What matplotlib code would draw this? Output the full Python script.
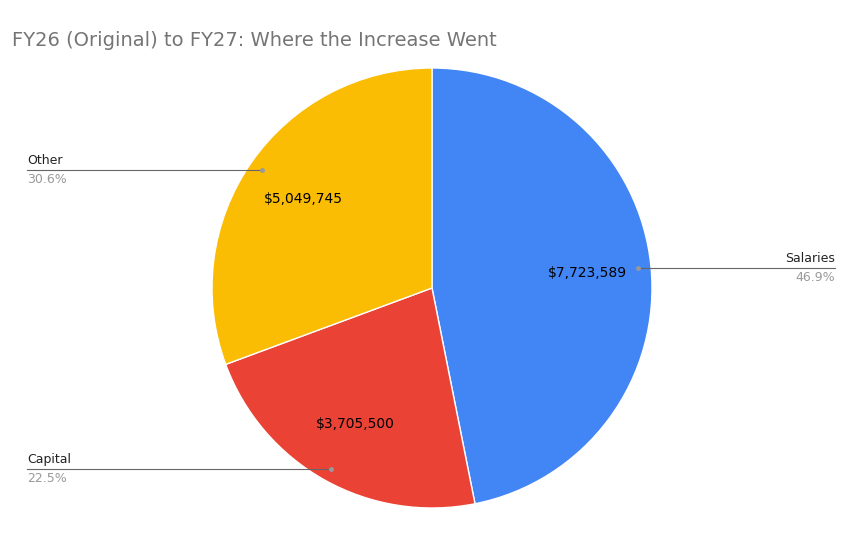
import matplotlib
matplotlib.use("Agg")
import matplotlib.pyplot as plt
import numpy as np

categories = ["Salaries", "Capital", "Other"]
values = [7723589, 3705500, 5049745]
colors = ["#4285F4", "#EA4335", "#FBBC04"]

W, H = 864, 535
fig = plt.figure(figsize=(W/100, H/100), dpi=100)
ax = fig.add_axes([0, 0, 1, 1])
ax.set_xlim(0, W); ax.set_ylim(0, H); ax.axis("off")
cx, cy, r = 432, H-288, 220
total = sum(values)
ax.pie(values, colors=colors, startangle=90, counterclock=False, center=(cx, cy), radius=r,
       wedgeprops=dict(linewidth=1, edgecolor="white"),
       labels=[f"${v:,}" for v in values], labeldistance=0.71,
       textprops=dict(fontsize=10, color="black", ha="center", va="center"), frame=True)
ax.set_xlim(0, W); ax.set_ylim(0, H); ax.axis("off")

start = 90
for cat, v in zip(categories, values):
    frac = v/total
    mid = np.deg2rad(start - frac*360/2)
    start -= frac*360
    px, py = cx + 0.94*r*np.cos(mid), cy + 0.94*r*np.sin(mid)
    right = np.cos(mid) > 0
    xe = 835 if right else 27
    ax.plot([px, xe], [py, py], color="#666666", lw=0.8)
    ax.plot(px, py, "o", color="#999999", ms=2.5)
    ha = "right" if right else "left"
    ax.text(xe, py+3, cat, ha=ha, va="bottom", fontsize=9, color="#222222")
    ax.text(xe, py-3, f"{frac*100:.1f}%", ha=ha, va="top", fontsize=9, color="#999999")

ax.text(12, H-40, "FY26 (Original) to FY27: Where the Increase Went", fontsize=14, color="#757575", va="center")
fig.savefig("out.png", dpi=100)
